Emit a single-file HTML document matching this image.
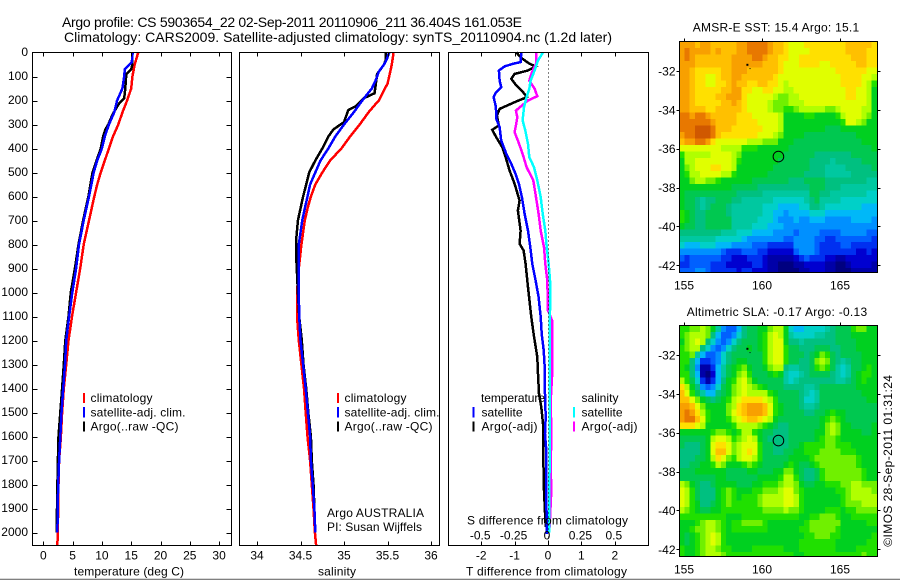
<!DOCTYPE html>
<html lang="en">
<head>
<meta charset="utf-8">
<title>Argo profile</title>
<style>
html,body{margin:0;padding:0;background:#fff;width:900px;height:580px;overflow:hidden}
svg{display:block}
text{font-family:"Liberation Sans",sans-serif;font-size:12px;fill:#000}
.big{font-size:14px}
</style>
</head>
<body>
<svg id="fig" xmlns="http://www.w3.org/2000/svg" width="900" height="580" viewBox="0 0 900 580">
<rect x="0" y="0" width="900" height="580" fill="#fff"/>
<defs>
<clipPath id="clipSst"><rect x="679.3" y="41.3" width="198" height="231.2"/></clipPath>
<clipPath id="clipSla"><rect x="679.3" y="325.5" width="198" height="231.2"/></clipPath>
</defs>
<g id="layerMarks"></g>
<g id="layerAxes"></g>

<text class="big" x="62" y="27" textLength="460">Argo profile: CS 5903654_22 02-Sep-2011 20110906_211 36.404S 161.053E</text>
<text class="big" x="64" y="42" textLength="548">Climatology: CARS2009. Satellite-adjusted climatology: synTS_20110904.nc (1.2d later)</text>

<text x="74" y="575.5" textLength="110">temperature (deg C)</text>
<text x="318" y="575.5" textLength="38">salinity</text>
<text x="466" y="575.5" textLength="161">T difference from climatology</text>
<text x="467" y="524.5" textLength="161">S difference from climatology</text>

<g>
<rect x="83" y="393" width="2" height="10" fill="#f00"/>
<text x="90.5" y="402" textLength="62">climatology</text>
<rect x="83" y="407" width="2" height="10.5" fill="#00f"/>
<text x="90.5" y="416.5" textLength="95">satellite-adj. clim.</text>
<rect x="83" y="421.5" width="2" height="10" fill="#000"/>
<text x="90.5" y="430.5" textLength="88">Argo(..raw -QC)</text>
</g>
<g>
<rect x="337" y="393" width="2" height="10" fill="#f00"/>
<text x="344.5" y="402" textLength="62">climatology</text>
<rect x="337" y="407" width="2" height="10.5" fill="#00f"/>
<text x="344.5" y="416.5" textLength="95">satellite-adj. clim.</text>
<rect x="337" y="421.5" width="2" height="10" fill="#000"/>
<text x="344.5" y="430.5" textLength="88">Argo(..raw -QC)</text>
</g>
<text x="327" y="517" textLength="97">Argo AUSTRALIA</text>
<text x="327" y="531" textLength="95">PI: Susan Wijffels</text>

<g>
<text x="481" y="402" textLength="64">temperature</text>
<rect x="472.5" y="407" width="2" height="10.5" fill="#00f"/>
<text x="481.5" y="416.5" textLength="41">satellite</text>
<rect x="472.5" y="421.5" width="2" height="10" fill="#000"/>
<text x="481.5" y="430.5" textLength="56">Argo(-adj)</text>
<text x="581.5" y="402" textLength="37">salinity</text>
<rect x="573" y="407" width="2" height="10.5" fill="#0ff"/>
<text x="581.5" y="416.5" textLength="41">satellite</text>
<rect x="573" y="421.5" width="2" height="10" fill="#f0f"/>
<text x="581.5" y="430.5" textLength="56">Argo(-adj)</text>
</g>

<text x="692.7" y="31.5" textLength="166.5">AMSR-E SST: 15.4 Argo: 15.1</text>
<text x="686.7" y="316" textLength="180.5">Altimetric SLA: -0.17 Argo: -0.13</text>
<text transform="translate(892,546.7) rotate(-90)" x="0" y="0" textLength="171.7">©IMOS 28-Sep-2011 01:31:24</text>
<rect x="0" y="578.7" width="900" height="1.3" fill="#808080"/>
</svg>

<script>
// ---------- Profile data (depth in m, temperature deg C, salinity, differences) ----------
const depthTicks = [0,100,200,300,400,500,600,700,800,900,1000,1100,1200,1300,1400,1500,1600,1700,1800,1900,2000];
const tempTicks = [0,5,10,15,20,25,30];
const salTicks = [34,34.5,35,35.5,36];
const salTickLabels = ['34','34.5','35','35.5','36'];
const tDiffTicks = [-2,-1,0,1,2];
const tDiffTickLabels = ['-2','-1','0','1','2'];
const sDiffTicks = [-0.5,-0.25,0,0.25,0.5];
const sDiffTickLabels = ['-0.5','-0.25','0','0.25','0.5'];
const lonTicks = [155,160,165];
const latTicks = [-32,-34,-36,-38,-40,-42];

const tempClimDepth = [0,50,100,150,200,250,300,350,400,450,500,550,600,700,800,900,1000,1100,1200,1300,1400,1500,1600,1700,1800,1900,2000,2056];
const tempClimValues = [16.2,15.6,15.2,15.0,14.3,13.5,12.8,11.9,11.2,10.5,9.8,9.2,8.7,7.8,6.9,6.3,5.6,4.9,4.3,3.9,3.5,3.2,3.0,2.7,2.6,2.55,2.45,2.4];
const tempSatDepth = [0,40,70,100,150,200,250,300,350,400,450,500,550,600,700,800,900,1000,1100,1200,1300,1400,1500,1600,1700,1800,1900,2000];
const tempSatValues = [15.25,15.1,13.9,13.8,13.5,12.6,12.1,11.2,10.5,10,9.2,8.6,8.2,7.8,6.9,6.1,5.6,4.95,4.4,3.9,3.7,3.4,3.1,2.9,2.7,2.55,2.45,2.4];
const tempArgoDepth = [0,30,50,70,90,110,150,190,210,230,260,300,320,350,400,450,500,600,700,800,900,1000,1100,1200,1300,1400,1500,1600,1700,1800,1900,2000];
const tempArgoValues = [15.2,15.2,15.2,15,14.2,14.1,14,13.8,13,12.5,11.8,11.1,10.6,10.2,9.8,9.1,8.4,7.7,6.8,6,5.4,4.7,4.3,3.75,3.5,3.2,2.9,2.6,2.5,2.4,2.33,2.27];

const salClimDepth = [0,50,100,130,150,200,220,250,300,350,400,450,500,550,600,650,700,800,900,1000,1100,1200,1300,1400,1500,1600,1700,1800,1900,2000,2056];
const salClimValues = [35.57,35.55,35.52,35.5,35.47,35.4,35.35,35.28,35.18,35.07,34.97,34.84,34.75,34.67,34.62,34.58,34.55,34.51,34.48,34.46,34.46,34.48,34.51,34.54,34.56,34.58,34.61,34.63,34.65,34.665,34.68];
const salSatDepth = [0,30,50,80,120,150,200,250,300,350,400,450,500,550,600,650,700,800,900,1000,1100,1200,1300,1400,1500,1600,1700,1800,1900,2000];
const salSatValues = [35.52,35.49,35.46,35.4,35.36,35.32,35.21,35.11,35.0,34.9,34.82,34.73,34.67,34.61,34.58,34.55,34.52,34.48,34.48,34.48,34.485,34.5,34.53,34.56,34.585,34.61,34.62,34.64,34.66,34.67];
const salArgoDepth = [0,30,50,90,120,170,190,225,240,260,290,320,350,400,450,500,550,600,650,700,780,850,1000,1100,1200,1300,1400,1500,1600,1700,1800,1900,2000];
const salArgoValues = [35.48,35.48,35.46,35.38,35.37,35.35,35.23,35.13,35.05,35.03,35,34.88,34.82,34.75,34.67,34.6,34.565,34.53,34.5,34.47,34.45,34.45,34.47,34.485,34.515,34.535,34.565,34.59,34.62,34.63,34.65,34.66,34.67];

const tDiffSatDepth = [0,40,47,58,75,117,144,165,186,221,249,276,311,367,422,464,506,547,603,672,742,811,881,950,1019,1102,1172,1241,1311,1422,1519,1589,1658,1867,2006];
const tDiffSatValues = [-0.8,-0.82,-1.05,-1.3,-1.47,-1.45,-1.4,-1.55,-1.63,-1.57,-1.55,-1.55,-1.45,-1.4,-1.25,-1.1,-0.97,-0.87,-0.78,-0.7,-0.6,-0.53,-0.47,-0.37,-0.28,-0.22,-0.19,-0.13,-0.1,-0.09,-0.07,-0.09,-0.05,-0.05,-0.03];
const tDiffArgoDepth = [0,26,47,58,75,89,110,137,165,186,207,235,263,304,322,353,394,436,492,547,617,658,742,797,825,881,978,1102,1172,1269,1339,1422,1478,1547,1631,1825,1978];
const tDiffArgoValues = [-0.95,-0.77,-0.55,-0.37,-0.6,-1,-1.1,-0.95,-0.75,-0.63,-1,-1.45,-1.53,-1.47,-1.67,-1.55,-1.37,-1.27,-1.15,-1,-0.85,-0.9,-0.82,-0.85,-0.73,-0.67,-0.6,-0.5,-0.43,-0.32,-0.3,-0.27,-0.2,-0.15,-0.15,-0.12,-0.07];
const sDiffSatDepth = [0,33,75,117,151,186,228,283,325,381,436,478,533,603,672,742,811,881,950,1075,1700,2000];
const sDiffSatValues = [-0.0375,-0.075,-0.1,-0.13,-0.14,-0.16,-0.18,-0.19,-0.17,-0.15,-0.14,-0.105,-0.08,-0.055,-0.04,-0.02,-0.01,0.005,0.015,0.015,0.012,0.008];
const sDiffArgoDepth = [0,47,82,117,151,182,200,242,269,304,332,367,422,478,533,603,672,742,811,881,950,1075,1116,1353,1450,1589,1728,1825,1978];
const sDiffArgoValues = [-0.09,-0.09,-0.12,-0.14,-0.1,-0.08,-0.15,-0.24,-0.23,-0.24,-0.25,-0.225,-0.19,-0.16,-0.11,-0.09,-0.07,-0.055,-0.03,-0.02,-0.005,0,0.03,0.03,0.02,0.025,0.02,0.025,0.012];

// ---------- Map data: colour-scale level per third-degree cell, north to south ----------
const sstLevels = [
[18,18,18,17,18,18,17,17,17,17,17,18,18,19,19,19,19,18,17,17,16,15,15,15,16,16,16,16,16,16,16,16,17,17,17,17,17,16],
[18,19,18,18,18,18,17,18,17,17,17,18,18,19,19,19,19,18,17,17,16,15,15,15,15,16,16,16,16,16,16,16,17,17,17,17,16,16],
[18,19,18,17,17,17,17,17,17,17,18,18,18,18,19,19,18,17,17,16,16,15,15,16,16,16,16,16,16,16,16,16,16,17,17,17,16,16],
[18,18,18,17,17,17,17,17,17,17,18,18,18,18,18,18,17,17,17,16,15,15,15,16,16,16,16,15,15,16,16,16,16,16,17,17,16,16],
[18,18,17,16,16,16,16,16,17,17,18,18,18,17,17,17,17,17,17,16,15,15,15,15,15,15,15,15,15,15,16,16,16,16,16,16,15,15],
[18,18,17,16,16,15,15,16,17,17,18,18,17,17,17,17,17,17,16,15,15,15,15,15,15,15,15,15,15,15,15,16,16,16,16,15,15,14],
[18,18,17,16,16,15,15,16,16,17,18,17,17,16,16,17,17,16,16,15,14,15,15,15,15,15,15,15,15,15,15,16,16,16,16,15,14,12],
[18,18,17,16,16,16,16,16,17,17,18,18,16,16,15,15,16,16,15,15,14,14,15,15,15,15,15,15,15,15,15,15,16,16,15,15,14,11],
[18,18,17,16,16,16,16,17,17,18,18,18,16,15,15,15,15,15,14,13,13,14,14,15,15,15,15,15,15,15,15,15,16,16,15,15,14,11],
[18,18,17,16,16,16,16,16,17,17,18,17,16,15,15,15,15,14,13,13,13,14,14,14,15,15,15,15,15,15,15,15,15,15,15,15,14,11],
[18,18,17,17,17,16,16,17,17,17,17,17,16,15,15,15,15,14,13,13,12,12,13,14,14,14,14,14,13,13,14,15,15,15,15,14,14,11],
[19,19,18,19,19,18,17,17,17,17,17,16,16,16,15,15,15,15,15,14,11,11,11,11,12,12,11,11,11,11,12,14,15,15,15,14,13,11],
[19,19,19,19,19,19,18,17,17,17,17,16,16,16,16,15,15,15,15,14,11,11,11,11,11,11,11,11,11,11,11,12,15,15,14,13,11,11],
[19,19,19,20,20,20,19,17,17,17,16,16,16,16,16,16,15,15,15,14,11,11,11,11,11,11,11,11,10,10,10,11,11,11,11,11,11,11],
[18,19,19,20,20,20,19,17,16,16,16,16,16,16,16,15,15,15,14,13,11,11,11,11,10,10,10,10,10,10,10,10,10,10,11,11,11,11],
[17,18,18,19,19,18,16,15,15,15,15,15,15,14,14,14,13,13,13,11,11,11,10,10,10,10,10,10,10,10,10,10,10,10,10,11,11,11],
[15,15,15,15,15,15,15,15,14,14,14,14,12,12,12,11,11,11,11,11,11,10,10,10,10,10,10,10,10,10,10,10,10,10,10,10,10,11],
[12,14,14,14,14,14,15,15,15,15,14,13,11,11,11,11,11,11,11,11,10,10,10,10,10,10,9,9,9,9,9,9,9,10,10,10,10,10],
[11,14,14,15,15,15,15,15,15,15,14,12,11,11,11,11,11,11,11,10,10,10,10,10,10,9,9,9,9,8,9,9,9,9,9,10,10,10],
[11,13,14,15,15,15,16,16,15,15,14,11,11,11,11,11,11,11,10,10,10,10,10,10,10,9,9,9,8,8,8,8,9,9,9,9,9,10],
[11,12,14,14,15,15,15,15,14,14,12,11,11,11,11,11,11,10,10,10,10,10,10,10,9,9,9,9,8,8,8,8,8,9,9,9,9,9],
[11,11,13,14,14,13,13,12,11,11,11,11,11,11,10,10,10,10,10,10,10,9,9,9,10,10,10,10,9,9,9,9,9,9,9,9,8,8],
[11,11,11,11,11,11,11,11,11,11,10,10,10,10,10,9,9,9,9,9,9,9,9,9,9,10,10,10,9,9,9,8,8,8,8,8,8,8],
[11,10,10,10,10,10,10,10,10,10,10,9,9,9,9,9,8,8,8,8,8,8,8,8,8,10,10,9,9,8,8,8,8,8,8,8,7,7],
[11,10,10,9,8,9,9,10,10,10,9,9,8,8,8,8,8,8,7,7,7,7,7,7,8,9,10,8,8,8,8,7,7,7,7,7,7,7],
[11,10,10,9,8,9,10,10,10,9,8,8,8,8,8,8,7,7,7,6,6,6,6,7,7,9,9,8,7,7,7,7,7,7,7,6,6,6],
[12,11,10,9,9,10,10,10,10,9,8,8,8,8,8,8,7,7,6,6,5,6,6,6,6,7,7,7,6,6,6,6,6,6,6,6,6,6],
[12,11,10,9,9,10,10,10,10,10,8,8,8,8,8,7,7,7,6,5,5,5,6,5,5,6,6,6,5,5,5,5,5,6,6,6,6,5],
[11,10,10,9,9,10,10,10,10,10,8,8,8,8,7,7,7,6,6,6,5,5,5,5,5,5,5,5,5,5,5,5,5,5,5,5,5,5],
[9,9,9,9,9,9,9,9,8,8,8,7,7,7,6,6,6,6,5,5,5,5,4,5,5,5,5,4,4,4,4,5,5,5,5,5,4,4],
[8,8,8,8,8,8,8,7,7,7,7,7,6,5,5,5,5,5,5,5,4,4,5,5,5,5,4,4,3,3,4,4,4,4,4,4,4,3],
[7,6,6,6,7,7,7,6,6,6,5,5,5,5,4,4,4,3,3,3,3,3,5,5,5,5,4,3,3,3,3,4,4,3,3,3,3,3],
[5,5,5,5,5,5,5,5,4,3,3,3,4,4,4,3,3,2,2,2,2,2,4,5,5,5,4,3,3,3,3,3,3,3,2,2,3,2],
[4,3,4,4,4,4,4,4,3,3,2,2,2,3,3,3,2,1,1,1,1,1,2,3,4,3,3,3,2,2,1,1,2,2,2,2,2,2],
[3,3,4,4,4,4,3,3,3,2,2,2,2,2,3,3,2,1,1,0,0,0,1,1,2,2,2,2,1,1,0,0,1,2,2,2,2,1],
[4,4,4,5,5,4,3,3,3,3,3,2,3,3,2,2,2,1,1,0,0,0,0,1,1,2,2,2,1,1,0,0,0,1,1,1,1,1]
];
const slaLevels = [
[12,12,13,13,14,13,11,8,5,4,4,6,9,10,10,11,11,13,14,14,11,7,6,6,7,7,7,7,8,9,10,10,10,12,13,13,11,11],
[12,13,14,14,14,13,9,6,4,4,5,7,9,10,10,11,12,14,15,14,11,8,7,7,7,7,8,8,9,9,10,10,10,11,11,11,11,11],
[11,13,14,15,14,9,7,5,4,5,7,9,10,10,10,11,12,14,15,15,11,9,9,8,9,9,9,9,9,9,10,10,10,10,11,11,11,11],
[12,13,14,14,9,7,5,4,5,7,9,10,10,11,10,11,12,14,15,15,12,10,10,9,9,9,10,10,10,9,9,10,10,10,11,11,11,11],
[12,12,13,8,6,4,4,5,7,9,10,10,10,10,10,10,12,14,15,15,12,10,10,10,9,10,11,13,12,10,9,10,10,10,10,11,11,11],
[12,12,9,6,3,3,4,5,7,9,10,11,11,10,10,10,12,14,15,15,12,10,10,9,9,10,13,14,13,10,9,8,9,10,10,11,11,11],
[12,11,9,5,1,1,3,6,8,10,11,12,13,11,10,10,11,13,14,14,9,8,8,9,9,10,12,13,12,10,8,7,8,10,10,11,12,11],
[12,12,9,6,1,0,2,6,8,10,11,13,14,12,10,10,10,11,12,11,8,7,7,8,9,10,10,10,10,9,8,7,8,10,11,12,12,11],
[14,12,10,7,3,1,3,6,9,11,12,14,15,13,11,10,10,10,10,10,8,7,8,9,9,9,9,9,9,9,8,8,9,10,11,12,11,11],
[16,14,11,9,5,4,5,7,10,11,13,14,15,14,13,12,11,10,10,10,9,9,9,9,8,8,9,10,10,10,10,10,10,10,11,11,11,11],
[17,15,12,10,8,6,6,9,10,11,13,14,15,14,14,14,14,12,11,10,10,10,10,9,8,7,8,10,10,10,10,10,10,10,10,11,11,11],
[17,17,15,13,11,10,9,10,11,12,14,15,16,16,16,16,15,14,12,10,10,10,10,9,7,7,8,10,10,10,10,10,10,10,10,10,11,11],
[18,18,17,15,13,11,11,11,11,13,14,16,17,18,18,18,17,15,12,11,10,10,10,9,8,8,9,10,10,10,10,10,10,10,10,10,10,10],
[18,19,18,16,14,12,11,11,11,13,15,16,17,18,18,18,17,15,12,11,10,10,10,10,9,9,10,10,11,12,11,11,10,10,10,10,10,10],
[18,19,19,17,15,12,11,11,11,12,14,15,16,17,17,16,15,14,11,10,10,10,10,10,10,10,10,11,12,13,12,11,10,10,10,10,10,10],
[16,16,16,15,14,11,11,11,11,11,12,14,14,14,14,13,12,11,10,9,9,10,10,10,10,10,10,11,13,14,13,11,11,10,10,10,10,11],
[11,11,11,11,11,11,12,13,13,12,11,12,14,14,12,11,10,10,9,9,9,10,10,10,10,10,11,11,13,14,13,11,11,11,11,10,10,11],
[10,10,10,10,10,11,14,15,15,14,12,13,14,15,14,11,10,9,9,9,9,10,10,10,10,10,11,12,13,13,12,11,11,11,11,11,11,11],
[10,9,9,9,10,11,15,16,16,15,13,14,15,15,15,12,10,10,9,9,9,10,10,11,12,12,12,12,13,13,12,12,12,11,11,11,11,11],
[9,9,9,9,10,11,15,17,17,15,13,14,15,16,15,12,10,10,9,9,10,10,11,11,12,12,12,13,13,13,13,12,12,12,11,11,11,11],
[9,9,9,10,10,11,14,16,15,13,12,14,15,15,14,12,10,10,10,10,10,11,11,11,11,12,13,13,13,13,13,13,13,13,12,11,11,11],
[9,9,10,10,11,11,12,14,13,11,11,11,12,13,12,11,10,10,10,10,11,12,11,10,10,11,12,13,13,13,13,13,13,13,12,11,11,11],
[10,10,10,11,11,11,11,11,11,10,10,10,10,11,11,10,10,10,11,11,13,13,11,10,9,9,10,12,13,13,13,13,13,13,13,12,11,11],
[10,10,10,10,10,10,10,11,11,10,10,10,10,10,10,11,11,11,11,12,14,14,12,10,9,9,10,12,13,13,13,13,13,13,13,12,11,11],
[14,13,11,10,9,9,10,11,11,11,11,10,10,10,11,11,12,12,12,13,14,14,13,11,10,10,11,11,12,12,12,13,13,14,14,13,13,13],
[15,14,12,10,9,9,9,11,12,13,12,11,11,11,12,12,13,13,13,14,15,15,13,12,11,11,11,11,11,11,12,12,13,14,14,14,14,13],
[15,14,12,10,9,9,9,11,12,13,12,11,12,12,12,13,14,14,14,14,15,15,14,12,11,11,11,11,11,11,11,12,13,14,14,14,14,14],
[15,14,12,11,9,9,10,11,12,13,12,12,12,12,12,13,14,14,14,14,15,15,14,12,11,11,11,11,11,11,11,12,13,13,13,14,14,14],
[14,13,12,11,10,10,11,11,12,12,12,12,12,12,12,12,13,13,13,13,14,13,13,12,11,11,11,11,12,12,12,11,12,12,13,13,13,13],
[12,12,12,12,12,12,12,12,12,11,11,11,12,12,12,12,12,12,12,12,12,12,12,11,11,12,12,13,13,13,12,11,11,12,12,12,12,12],
[11,11,11,12,13,14,14,13,12,11,12,12,13,13,13,13,12,11,11,11,11,11,11,11,12,13,13,13,13,13,13,11,11,11,11,11,12,12],
[11,11,12,13,13,14,14,13,12,11,12,12,12,12,12,12,12,11,11,11,11,11,11,12,12,13,13,13,13,13,12,11,11,11,11,11,11,11],
[11,10,11,12,13,14,15,14,12,11,11,11,11,11,11,11,11,11,11,11,11,11,11,11,12,12,13,13,13,12,12,11,11,11,11,11,11,12],
[11,10,11,12,13,14,15,14,12,11,11,11,11,11,11,11,11,11,11,11,11,11,11,12,12,12,12,12,12,12,11,11,11,11,11,11,12,12],
[12,11,11,12,13,14,14,13,12,12,11,11,11,11,12,12,12,12,12,12,11,11,11,12,12,12,12,12,12,12,11,11,11,11,12,12,12,12],
[12,11,11,12,13,14,14,14,13,12,12,12,12,12,12,12,12,12,12,12,12,12,11,11,12,12,12,12,12,12,12,12,12,12,12,13,12,12]
];
const levelPalette = ['#000080','#0000a8','#0000d0','#0030f0','#0060ff','#0090ff','#00b8f8','#00d0c8','#00c8a0','#00c080','#00c850','#00d020','#20e000','#70f000','#b0ff00','#e0ff00','#ffe000','#ffc000','#f8a000','#e87800','#d05800'];

// ---------- Axis functions ----------
const NS = 'http://www.w3.org/2000/svg';
const marks = document.getElementById('layerMarks');
const axes = document.getElementById('layerAxes');
const yDepth = d => 52.5 + 0.24 * d;
const xTemp = t => 43.3 + 5.86 * t;
const xSal = s => 257 + 87 * (s - 34);
const xTDiff = v => 548 + 33.4 * v;
const xSDiff = v => 548 + 133.6 * v;
const xLon = lon => 684 + 15.6 * (lon - 155);
const ySstLat = lat => 71 + 19.43 * (-32 - lat);
const ySlaLat = lat => 355 + 19.43 * (-32 - lat);

function svgEl(tag, parent, attrs) {
  const el = document.createElementNS(NS, tag);
  for (const k in attrs) el.setAttribute(k, attrs[k]);
  parent.appendChild(el);
  return el;
}

function drawProfile(depths, values, xFn, color, name) {
  const pts = depths.map((d, i) => xFn(values[i]).toFixed(1) + ',' + yDepth(d).toFixed(1)).join(' ');
  const el = svgEl('polyline', marks, {points: pts, fill: 'none', stroke: color, 'stroke-width': 2.5, 'shape-rendering': 'crispEdges'});
  
  
}

function drawFrame(x0, y0, x1, y1, name) {
  const el = svgEl('rect', axes, {x: x0, y: y0, width: x1 - x0, height: y1 - y0, fill: 'none', stroke: '#000', 'stroke-width': 1, 'shape-rendering': 'crispEdges'});
  
  
}

function drawTick(x1, y1, x2, y2) {
  const el = svgEl('line', axes, {x1: x1, y1: y1, x2: x2, y2: y2, stroke: '#000', 'stroke-width': 1, 'shape-rendering': 'crispEdges'});
  
  
}

function drawLabel(x, y, str, anchor) {
  const el = svgEl('text', axes, {x: x, y: y, 'text-anchor': anchor});
  el.textContent = str;
  
  
}

function drawMap(levels, yLat, clipId, name) {
  const g = svgEl('g', marks, {'clip-path': 'url(#' + clipId + ')', 'shape-rendering': 'crispEdges'});
  
  
  levels.forEach((row, r) => {
    row.forEach((lev, c) => {
      const lonW = 154.7 + c / 3, latN = -30.48 - r / 3;
      const x0 = xLon(lonW), x1 = xLon(lonW + 1 / 3), y0 = yLat(latN), y1 = yLat(latN - 1 / 3);
      const idx = Math.max(0, Math.min(levelPalette.length - 1, Math.round(lev)));
      const cell = svgEl('rect', g, {x: x0.toFixed(2), y: y0.toFixed(2), width: (x1 - x0 + 0.6).toFixed(2), height: (y1 - y0 + 0.6).toFixed(2), fill: levelPalette[idx]});
      
      
    });
  });
}

// ---------- Profile panels ----------
const top0 = 52.5, bot0 = 545.5;
drawProfile(tempClimDepth, tempClimValues, xTemp, '#f00', 'temperature-climatology-line');
drawProfile(tempArgoDepth, tempArgoValues, xTemp, '#000', 'temperature-argo-line');
drawProfile(tempSatDepth, tempSatValues, xTemp, '#00f', 'temperature-satellite-line');
drawProfile(salClimDepth, salClimValues, xSal, '#f00', 'salinity-climatology-line');
drawProfile(salArgoDepth, salArgoValues, xSal, '#000', 'salinity-argo-line');
drawProfile(salSatDepth, salSatValues, xSal, '#00f', 'salinity-satellite-line');
drawProfile(tDiffArgoDepth, tDiffArgoValues, xTDiff, '#000', 't-difference-argo-line');
drawProfile(tDiffSatDepth, tDiffSatValues, xTDiff, '#00f', 't-difference-satellite-line');
drawProfile(sDiffArgoDepth, sDiffArgoValues, xSDiff, '#f0f', 's-difference-argo-line');
drawProfile(sDiffSatDepth, sDiffSatValues, xSDiff, '#0ff', 's-difference-satellite-line');

const zeroLine = svgEl('line', axes, {x1: xTDiff(0) + 0.5, y1: top0, x2: xTDiff(0) + 0.5, y2: bot0, stroke: '#000', 'stroke-width': 1, 'stroke-dasharray': '1 3'});



drawFrame(32.5, top0, 231.5, bot0, 'temperature-plot-frame');
drawFrame(239.5, top0, 439.5, bot0, 'salinity-plot-frame');
drawFrame(448.5, top0, 648.5, bot0, 'difference-plot-frame');

depthTicks.forEach(d => {
  const y = Math.round(yDepth(d)) + 0.5;
  if (d > 0) { drawTick(32.5, y, 37.5, y); drawTick(226.5, y, 231.5, y); }
  drawLabel(28, yDepth(d) + 3.5, String(d), 'end');
});
tempTicks.forEach(t => {
  const x = Math.round(xTemp(t)) + 0.5;
  drawTick(x, top0, x, top0 + 4); drawTick(x, bot0 - 4, x, bot0);
  drawLabel(xTemp(t), 559.5, String(t), 'middle');
});
salTicks.forEach((s, i) => {
  const x = Math.round(xSal(s)) + 0.5;
  drawTick(x, top0, x, top0 + 4); drawTick(x, bot0 - 4, x, bot0);
  drawLabel(xSal(s), 559.5, salTickLabels[i], 'middle');
});
tDiffTicks.forEach((v, i) => {
  const x = Math.round(xTDiff(v)) + 0.5;
  drawTick(x, bot0 - 4, x, bot0);
  drawLabel(xTDiff(v), 559.5, tDiffTickLabels[i], 'middle');
});
sDiffTicks.forEach((v, i) => {
  const x = Math.round(xSDiff(v / 1)) + 0.5;
  drawTick(x, top0, x, top0 + 4);
  drawLabel(xSDiff(v) - 1, 539.5, sDiffTickLabels[i], 'middle');
});

// ---------- Maps ----------
drawMap(sstLevels, ySstLat, 'clipSst', 'sst-heatmap');
drawMap(slaLevels, ySlaLat, 'clipSla', 'sla-heatmap');
drawFrame(679.5, 41.5, 877.5, 272.5, 'sst-map-frame');
drawFrame(679.5, 325.5, 877.5, 556.5, 'sla-map-frame');

[[41.5, 272.5, ySstLat, 289.5], [325.5, 556.5, ySlaLat, 573.5]].forEach(cfg => {
  lonTicks.forEach(lon => {
    const x = Math.round(xLon(lon)) + 0.5;
    drawTick(x, cfg[0] - 3, x, cfg[0]);
    drawLabel(xLon(lon), cfg[3], String(lon), 'middle');
  });
  latTicks.forEach(lat => {
    const y = Math.round(cfg[2](lat)) + 0.5;
    drawTick(676.5, y, 679.5, y);
    drawTick(877.5, y, 880.5, y);
    drawLabel(675.5, cfg[2](lat) + 4.5, String(lat), 'end');
  });
  // Argo float position
  const c = svgEl('circle', axes, {cx: xLon(161.053), cy: cfg[2](-36.404), r: 5.3, fill: 'none', stroke: '#000', 'stroke-width': 1});
  
  
  // small island specks
  const s1 = svgEl('rect', axes, {x: xLon(159.0), y: cfg[2](-31.63), width: 2, height: 2, fill: '#000'});
  
  
  const s2 = svgEl('rect', axes, {x: xLon(159.2), y: cfg[2](-31.85), width: 1, height: 1, fill: '#000'});
  
  
});
</script>
</body>
</html>
